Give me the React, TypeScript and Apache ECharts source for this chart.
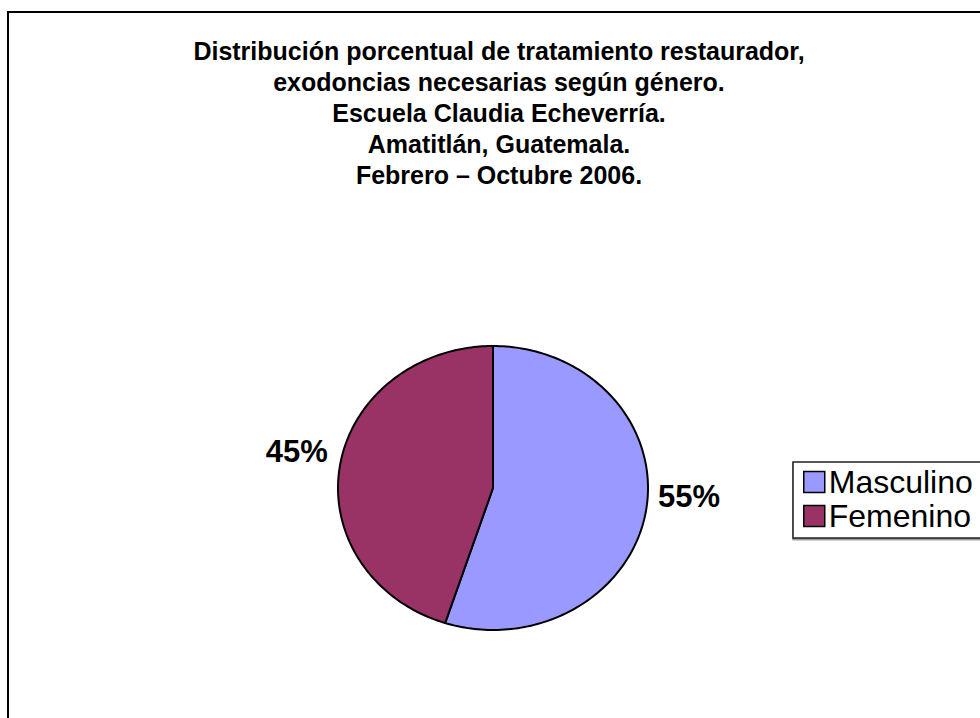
import { useEffect, useRef } from "react";
import * as echarts from "echarts";

const titleLines = [
  "Distribución porcentual de tratamiento restaurador,",
  "exodoncias necesarias según género.",
  "Escuela Claudia Echeverría.",
  "Amatitlán, Guatemala.",
  "Febrero – Octubre 2006.",
];
const categories = ["Masculino", "Femenino"];
const values = [55, 45];
const colors = ["#9999FF", "#993366"];

const FONT = "'Liberation Sans', Arial, Helvetica, sans-serif";

export default function App() {
  const ref = useRef<HTMLDivElement>(null);
  useEffect(() => {
    const chart = echarts.init(ref.current!, null, { renderer: "svg" });
    const total = values.reduce((a, b) => a + b, 0);
    const starts: number[] = [];
    let acc = 0;
    values.forEach((v) => {
      starts.push(acc);
      acc += v;
    });

    const CX = 493, CY = 488, RX = 155, RY = 142;
    const pt = (frac: number) => {
      const a = frac * 2 * Math.PI;
      return [CX + RX * Math.sin(a), CY - RY * Math.cos(a)];
    };

    const series = categories.map((name, i) => ({
      type: "custom",
      name,
      coordinateSystem: "none",
      data: [[values[i], starts[i]]],
      itemStyle: { color: colors[i], borderColor: "#000", borderWidth: 1.5 },
      renderItem: (params: any, api: any) => {
        const v = api.value(0) as number;
        const s = api.value(1) as number;
        const f0 = s / total;
        const f1 = (s + v) / total;
        const n = 160;
        const points: number[][] = [[CX, CY]];
        for (let k = 0; k <= n; k++) points.push(pt(f0 + ((f1 - f0) * k) / n));
        const mid = (f0 + f1) / 2;
        const [ex, ey] = pt(mid);
        const right = Math.sin(mid * 2 * Math.PI) >= 0;
        return {
          type: "group",
          children: [
            {
              type: "polygon",
              shape: { points },
              style: { fill: colors[i], stroke: "#000", lineWidth: 2, lineJoin: "round" },
            },
            {
              type: "text",
              x: ex + (right ? 12 : -12),
              y: ey - 14,
              style: {
                text: Math.round((v / total) * 100) + "%",
                align: right ? "left" : "right",
                verticalAlign: "middle",
                font: `bold 31px ${FONT}`,
                fill: "#000",
              },
            },
          ],
        };
      },
    }));

    chart.setOption({
      animation: false,
      backgroundColor: "#fff",
      title: {
        text: titleLines.join("\n"),
        left: 494,
        textAlign: "center",
        top: 30,
        textStyle: {
          fontSize: 25,
          fontWeight: "bold",
          fontFamily: FONT,
          color: "#000",
          lineHeight: 31,
        },
      },
      legend: {
        orient: "vertical",
        left: 803,
        top: 466,
        icon: "rect",
        itemWidth: 21,
        itemHeight: 21,
        itemGap: 2,
        padding: 0,
        selectedMode: false,
        data: categories,
        itemStyle: { borderColor: "#000", borderWidth: 1.5 },
        textStyle: { fontSize: 32, fontFamily: FONT, color: "#000", lineHeight: 32, padding: [0, 0, 0, -1] },
      },
      graphic: [
        {
          type: "rect",
          shape: { x: 8, y: 12, width: 1000, height: 1000 },
          style: { fill: "none", stroke: "#000", lineWidth: 2 },
          silent: true,
        },
        {
          type: "rect",
          shape: { x: 793, y: 462, width: 300, height: 76 },
          style: {
            fill: "#fff",
            stroke: "#222",
            lineWidth: 1.5,
            shadowColor: "rgba(0,0,0,0.45)",
            shadowOffsetY: 1.5,
            shadowOffsetX: 0,
            shadowBlur: 1,
          },
          silent: true,
          z: -1,
        },
      ],
      series,
    });
    return () => chart.dispose();
  }, []);
  return (
    <div
      ref={ref}
      style={{ position: "absolute", left: 0, top: 0, width: 980, height: 718 }}
    />
  );
}
